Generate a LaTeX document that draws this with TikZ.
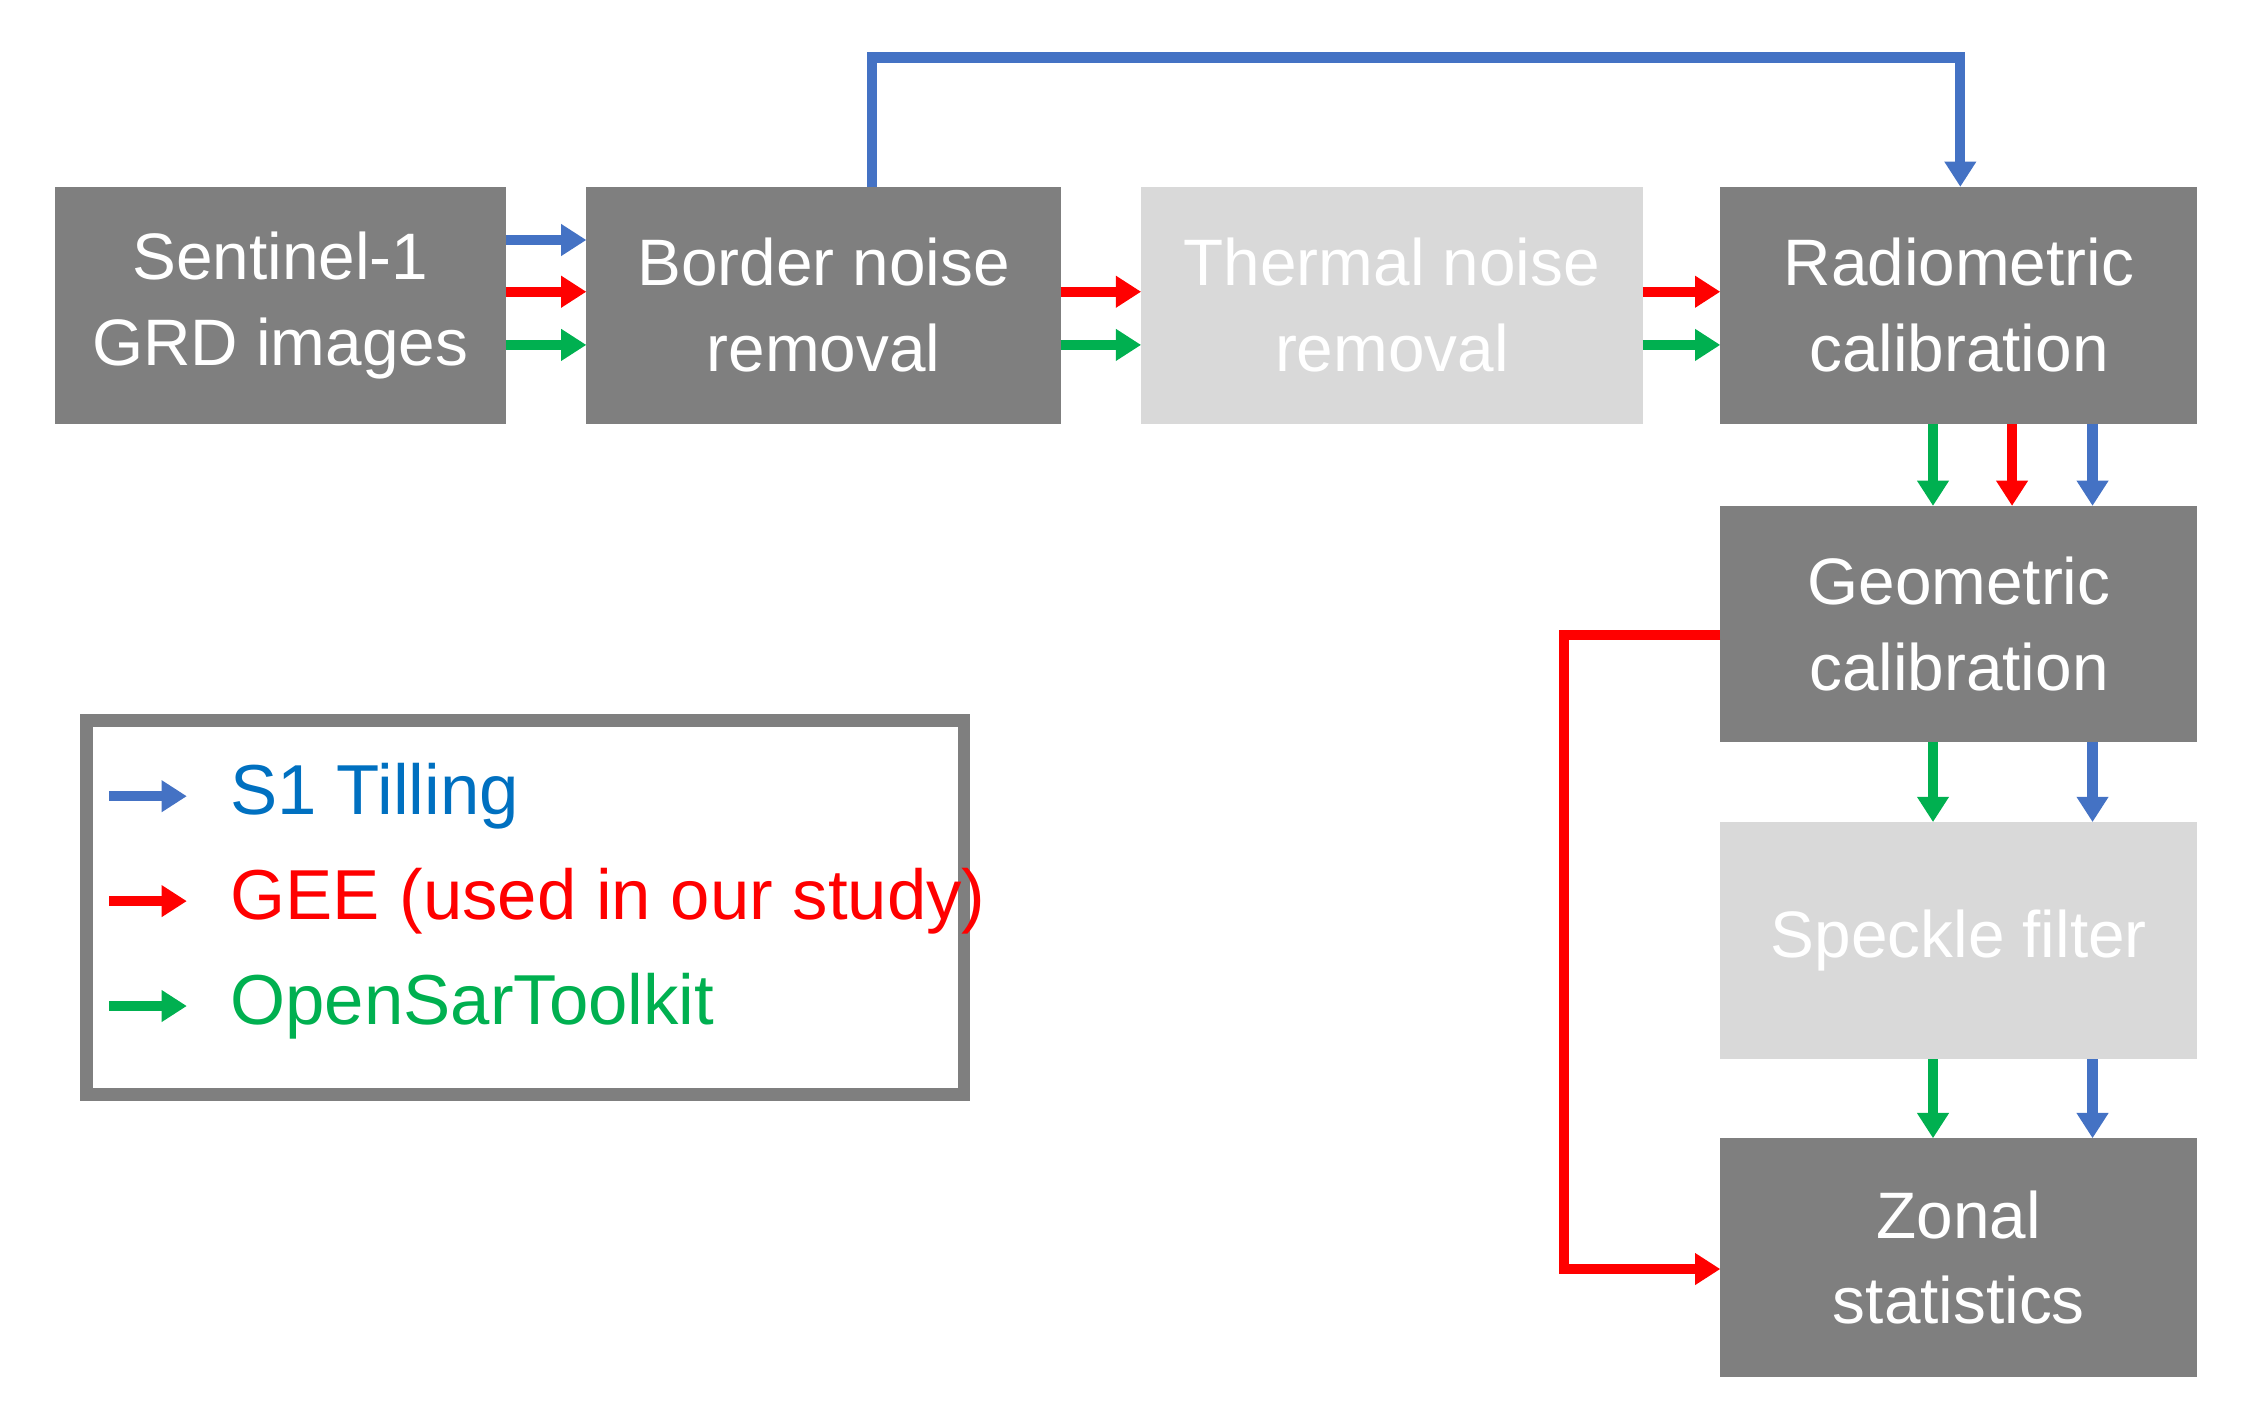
\documentclass[tikz,border=0pt]{standalone}
\usepackage{fontspec}
\setmainfont{Liberation Sans}
\usetikzlibrary{arrows.meta}
\definecolor{bl}{RGB}{68,114,196}
\definecolor{rd}{RGB}{255,0,0}
\definecolor{gr}{RGB}{0,176,80}
\definecolor{dg}{RGB}{127,127,127}
\definecolor{lg}{RGB}{217,217,217}
\definecolor{tb}{RGB}{0,112,192}
\begin{document}
\begin{tikzpicture}[x=0.01cm,y=-0.01cm,
 box/.style={fill=dg,text=white,align=center,font=\fontsize{13}{17}\selectfont,inner sep=0},
 lbox/.style={box,fill=lg},
 ar/.style={line width=2pt,-{Triangle[length=5pt,width=6pt]}}]
\useasboundingbox (0,0) rectangle (1560,991);
\path[box] (38,130) rectangle (352,295) node[midway] (s1) {Sentinel-1\\GRD images};
\path[box] (408,130) rectangle (738,295) node[midway] (bn) {Border noise\\removal};
\path[lbox] (794,130) rectangle (1143,295) node[midway] (tn) {Thermal noise\\removal};
\path[box] (1197,130) rectangle (1529,295) node[midway] (rc) {Radiometric\\calibration};
\path[box] (1197,352) rectangle (1529,516) node[midway] (gc) {Geometric\\calibration};
\path[lbox] (1197,572) rectangle (1529,737) node[midway] (sf) {Speckle filter};
\path[box] (1197,792) rectangle (1529,958) node[midway] (zs) {Zonal\\statistics};
\coordinate (a1) at (352,167); \coordinate (a2) at (408,167);
\draw[ar,bl] (a1) -- (a2);
\draw[ar,rd] (352,203) -- (408,203);
\draw[ar,gr] (352,240) -- (408,240);
\draw[ar,rd] (738,203) -- (794,203);
\draw[ar,gr] (738,240) -- (794,240);
\draw[ar,rd] (1143,203) -- (1197,203);
\draw[ar,gr] (1143,240) -- (1197,240);
\draw[ar,bl] (607,130) -- (607,40) -- (1364,40) -- (1364,130);
\draw[ar,gr] (1345,295) -- (1345,352);
\draw[ar,rd] (1400,295) -- (1400,352);
\draw[ar,bl] (1456,295) -- (1456,352);
\draw[ar,gr] (1345,516) -- (1345,572);
\draw[ar,bl] (1456,516) -- (1456,572);
\draw[ar,gr] (1345,737) -- (1345,792);
\draw[ar,bl] (1456,737) -- (1456,792);
\draw[ar,rd] (1197,442) -- (1088,442) -- (1088,883) -- (1197,883);
\node[draw=dg,line width=2.5pt,minimum width=6.1cm,minimum height=2.6cm,anchor=north west] (lg) at (56,497) {};
\draw[ar,bl] (76,554) -- (130,554);
\draw[ar,rd] (76,627) -- (130,627);
\draw[ar,gr] (76,700) -- (130,700);
\node[anchor=west,text=tb,font=\fontsize{14}{17}\selectfont] (t1) at (148,554) {S1 Tilling};
\node[anchor=west,text=rd,font=\fontsize{14}{17}\selectfont] (t2) at (148,627) {GEE (used in our study)};
\node[anchor=west,text=gr,font=\fontsize{14}{17}\selectfont] (t3) at (148,700) {OpenSarToolkit};
\end{tikzpicture}
\end{document}
